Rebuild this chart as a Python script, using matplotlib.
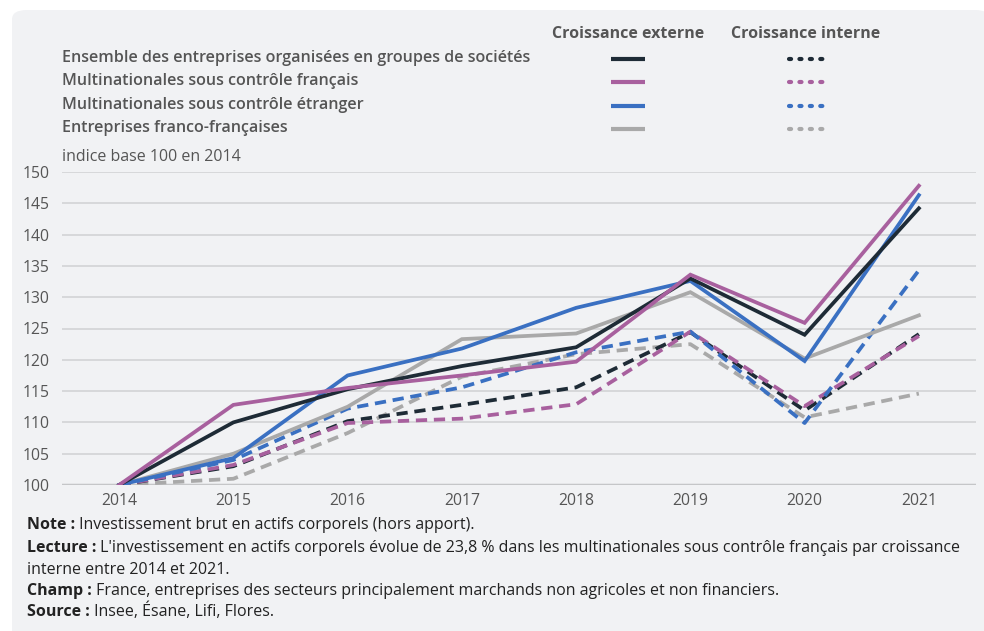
import matplotlib
matplotlib.use("Agg")
import matplotlib.pyplot as plt
from matplotlib.lines import Line2D
from matplotlib.patches import FancyBboxPatch

plt.rcParams['font.family'] = ['Open Sans', 'DejaVu Sans']

years = [2014, 2015, 2016, 2017, 2018, 2019, 2020, 2021]

# Croissance externe (solid)
ens_ext = [100, 110.0, 115.3, 119.0, 122.0, 133.0, 124.0, 144.2]
mfr_ext = [100, 112.8, 115.5, 117.5, 119.7, 133.6, 125.9, 147.8]
met_ext = [100, 104.3, 117.5, 121.8, 128.3, 132.6, 119.8, 146.3]
ff_ext = [100, 105.0, 112.5, 123.3, 124.2, 130.8, 120.2, 127.1]

# Croissance interne (dashed)
ens_int = [100, 103.0, 110.2, 112.8, 115.6, 124.4, 111.9, 124.1]
mfr_int = [100, 103.2, 109.9, 110.6, 112.9, 124.5, 112.6, 123.8]
met_int = [100, 104.0, 112.2, 115.6, 121.2, 124.5, 109.9, 134.3]
ff_int = [100, 101.0, 108.3, 117.3, 120.9, 122.5, 110.8, 114.6]

series_labels = [
    "Ensemble des entreprises organisées en groupes de sociétés",
    "Multinationales sous contrôle français",
    "Multinationales sous contrôle étranger",
    "Entreprises franco-françaises",
]
header_ext = "Croissance externe"
header_int = "Croissance interne"
y_ticks = [100, 105, 110, 115, 120, 125, 130, 135, 140, 145, 150]
unit_label = "indice base 100 en 2014"

notes = [
    ("Note :", " Investissement brut en actifs corporels (hors apport)."),
    ("Lecture :", " L'investissement en actifs corporels évolue de 23,8 % dans les multinationales sous contrôle français par croissance"),
    ("", "interne entre 2014 et 2021."),
    ("Champ :", " France, entreprises des secteurs principalement marchands non agricoles et non financiers."),
    ("Source :", " Insee, Ésane, Lifi, Flores."),
]

colors = ["#1e2b36", "#a8609e", "#3a70c2", "#a9a9a9"]
ext = [ens_ext, mfr_ext, met_ext, ff_ext]
intr = [ens_int, mfr_int, met_int, ff_int]

W, H = 984, 631
fig = plt.figure(figsize=(W / 100, H / 100), dpi=100)
fig.patch.set_facecolor("white")

def fx(px):
    return px / W

def fy(py):
    return 1 - py / H

# background panel
panel = FancyBboxPatch((fx(12), fy(640)), fx(990) - fx(12), fy(10) - fy(640),
                       boxstyle="round,pad=0,rounding_size=0.015",
                       transform=fig.transFigure, facecolor="#f1f2f4",
                       edgecolor="none", zorder=0)
fig.add_artist(panel)

ax = fig.add_axes([fx(62), fy(485), fx(976) - fx(62), fy(172) - fy(485)])
ax.set_facecolor("none")
ax.set_xlim(2013.5, 2021.5)
ax.set_ylim(100, 150)
ax.set_yticks(y_ticks)
ax.set_xticks(years)
ax.set_xticklabels([str(y) for y in years])
for s in ax.spines.values():
    s.set_visible(False)
ax.tick_params(axis="both", length=0, labelsize=11.3, labelcolor="#555555")
ax.tick_params(axis="y", pad=9)
ax.tick_params(axis="x", pad=6)
ax.grid(axis="y", color="#d2d3d5", lw=1.2, zorder=0)
ax.grid(axis="x", visible=False)
ax.axhline(100, color="#8a8a8a", lw=1.6, zorder=1)

dash = (0, (3.0, 1.8))
for i in [3, 0, 1, 2]:
    ax.plot(years, intr[i], color=colors[i], lw=2.7, linestyle=dash, zorder=2)
for i in [3, 2, 0, 1]:
    ax.plot(years, ext[i], color=colors[i], lw=2.7, zorder=3, solid_joinstyle="miter")

fig.text(fx(62), fy(157), unit_label, fontsize=11.5, color="#555555", va="center", ha="left")

# legend
fig.text(fx(628), fy(34), header_ext, fontsize=11.5, fontweight="bold", color="#555555", ha="center", va="center")
fig.text(fx(806), fy(34), header_int, fontsize=11.5, fontweight="bold", color="#555555", ha="center", va="center")
rows = [58, 81, 105, 128]
for i, lab in enumerate(series_labels):
    y = rows[i]
    fig.text(fx(62), fy(y), lab, fontsize=11.6, fontweight="semibold", color="#555555", ha="left", va="center")
    fig.add_artist(Line2D([fx(611), fx(645)], [fy(y + 1), fy(y + 1)], transform=fig.transFigure,
                          color=colors[i], lw=3, solid_capstyle="butt"))
    fig.add_artist(Line2D([fx(789), fx(824)], [fy(y + 1), fy(y + 1)], transform=fig.transFigure,
                          color=colors[i], lw=3, linestyle=(0, (0.5, 2.0)), dash_capstyle="round"))

# footnotes
note_rows = [525, 548, 570, 591, 612]
for (b, r), y in zip(notes, note_rows):
    if b:
        t = fig.text(fx(27), fy(y), b, fontsize=11.5, fontweight="bold", color="#222222", ha="left", va="center")
        ax.annotate(r, xy=(1, 0), xycoords=t, fontsize=11.5, color="#222222", ha="left", va="bottom",
                    annotation_clip=False)
    else:
        fig.text(fx(27), fy(y), r, fontsize=11.5, color="#222222", ha="left", va="center")

fig.savefig("out.png", dpi=100)
